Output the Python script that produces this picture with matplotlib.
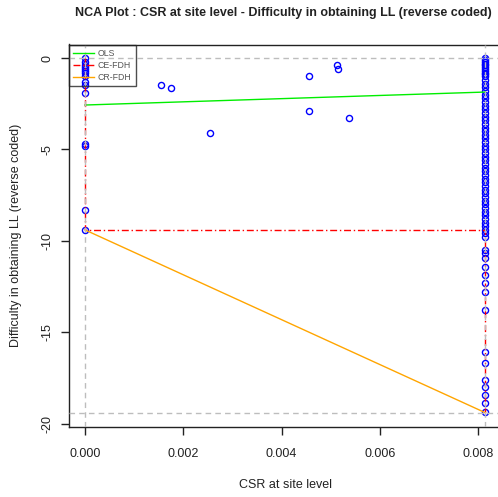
import matplotlib
matplotlib.use("Agg")
import matplotlib.pyplot as plt

plt.rcParams['font.family'] = ['Liberation Sans', 'DejaVu Sans']

# data
x_max = 0.00815
y_min = -19.4

left_y = [0, -0.2, -0.4, -0.5, -0.6, -0.7, -0.8, -1.0, -1.3, -1.5, -1.9, -4.7, -4.8, -8.3, -9.4]

mid_x = [0.00155, 0.00175, 0.00255, 0.00455, 0.00455, 0.00512, 0.00515, 0.00537]
mid_y = [-1.5, -1.65, -4.1, -1.0, -2.9, -0.4, -0.6, -3.3]

right_y = [0, -0.1, -0.2, -0.3, -0.4, -0.5, -0.6, -0.7, -0.8, -0.9, -1.0, -1.2, -1.4,
           -1.6, -1.8, -2.0, -2.2, -2.4, -2.6, -2.8, -3.0, -3.2, -3.4, -3.6, -3.8, -4.0,
           -4.2, -4.4, -4.6, -4.8, -5.0, -5.2, -5.4, -5.6, -5.8, -6.0, -6.2, -6.4, -6.6,
           -6.8, -7.0, -7.2, -7.4, -7.6, -7.8, -8.0, -8.2, -8.4, -8.6, -8.8, -9.0, -9.2,
           -9.4, -9.56, -9.78, -10.5, -10.66, -10.93, -11.42, -11.86, -12.3, -12.79,
           -13.77, -16.1, -16.67, -17.6, -17.98, -18.42, -18.85, -19.34]

ols_x = [0, 0.00815]
ols_y = [-2.57, -1.86]
ce_x = [0, 0, 0.00815, 0.00815]
ce_y = [0, -9.4, -9.4, -19.4]
cr_x = [0, 0.00815]
cr_y = [-9.4, -19.4]

xticks = [0.000, 0.002, 0.004, 0.006, 0.008]
xtick_labels = ["0.000", "0.002", "0.004", "0.006", "0.008"]
yticks = [0, -5, -10, -15, -20]
ytick_labels = ["0", "-5", "-10", "-15", "-20"]

fig = plt.figure(figsize=(4.98, 4.97), dpi=100)
ax = fig.add_axes([69/498, 1-427/497, 432/498, (427-44.5)/497])

pts_x = [0]*len(left_y) + mid_x + [x_max]*len(right_y)
pts_y = left_y + mid_y + right_y
ax.plot(pts_x, pts_y, linestyle='none', marker='o', markersize=4.4,
        markerfacecolor='none', markeredgecolor='#0000ff', markeredgewidth=1.0, zorder=2)

for xv in [0, x_max]:
    ax.axvline(xv, color='#bdbdbd', linestyle=(0, (4, 3)), linewidth=1, zorder=4)
for yv in [0, y_min]:
    ax.axhline(yv, color='#bdbdbd', linestyle=(0, (4, 3)), linewidth=1, zorder=4)

ax.plot(ols_x, ols_y, color='#00ee00', linewidth=1, label='OLS', zorder=3)
ax.plot(ce_x, ce_y, color='#ff0000', linewidth=1, linestyle=(0, (5, 2, 1, 2)), label='CE-FDH', zorder=3)
ax.plot(cr_x, cr_y, color='#ffa500', linewidth=1, label='CR-FDH', zorder=3)

ax.set_xlim(-0.000326, 0.008468)
ax.set_ylim(-20.18, 0.74)

ax.set_xticks(xticks)
ax.set_xticklabels(xtick_labels)
ax.set_yticks(yticks)
ax.set_yticklabels(ytick_labels, rotation=90, va='center')
ax.tick_params(direction='out', length=6, width=1, labelsize=9, pad=9, colors='#222222')
ax.tick_params(axis='y', pad=5)
for s in ax.spines.values():
    s.set_linewidth(1)
    s.set_color('#222222')

ax.set_xlabel("CSR at site level", fontsize=9, labelpad=14, color='#222222')
ax.set_ylabel("Difficulty in obtaining LL (reverse coded)", fontsize=9, labelpad=14, color='#222222')
fig.text(283/498, 1-13/497, "NCA Plot : CSR at site level - Difficulty in obtaining LL (reverse coded)",
         ha='center', va='center', fontsize=9.0, fontweight='bold', color='#222222')

leg = ax.legend(loc='upper left', bbox_to_anchor=(0, 1), borderaxespad=0, fontsize=6.3,
                frameon=True, fancybox=False, handlelength=2.3, handletextpad=0.5,
                labelspacing=0.35, borderpad=0.5)
leg.get_frame().set_edgecolor('#222222')
leg.get_frame().set_facecolor('none')
leg.get_frame().set_linewidth(1)
for t in leg.get_texts():
    t.set_color('#555555')
leg.set_zorder(5)

fig.savefig("out.png", dpi=100)
